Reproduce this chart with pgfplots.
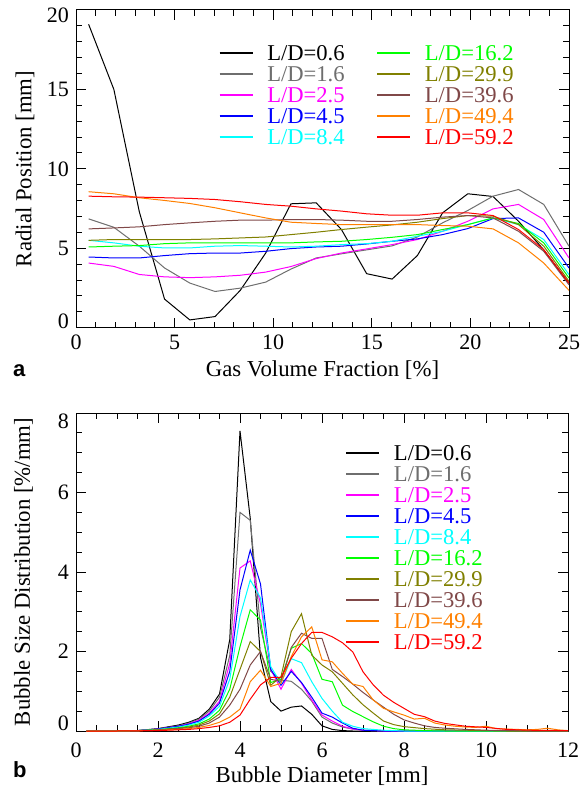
\documentclass[border=0pt]{standalone}
\usepackage{pgfplots}
\pgfplotsset{compat=1.18}
\usepackage{pgfplotstable}
\usepackage{fontspec}
\setmainfont{Liberation Serif}
\newfontfamily\panelfont{Liberation Sans}

\definecolor{cgray}{RGB}{110,110,110}
\definecolor{cmag}{RGB}{255,0,255}
\definecolor{cblue}{RGB}{0,0,255}
\definecolor{ccyan}{RGB}{0,255,255}
\definecolor{cgreen}{RGB}{0,255,0}
\definecolor{colive}{RGB}{128,128,0}
\definecolor{cbrown}{RGB}{128,72,72}
\definecolor{corange}{RGB}{255,128,0}
\definecolor{cred}{RGB}{255,0,0}

% radial position vs gas volume fraction, one column per L/D
\pgfplotstableread{
x     a     b     c     d     e     f     g     h     i     j
0.64  19.1  6.85  4.07  4.45  5.50  5.08  5.50  6.22  8.56  8.28
1.92  15.0  6.32  3.86  4.39  5.34  5.13  5.55  6.28  8.43  8.24
3.21  7.3   5.13  3.35  4.39  5.13  5.17  5.55  6.35  8.18  8.22
4.49  1.8   3.76  3.20  4.54  5.02  5.29  5.55  6.49  8.01  8.18
5.77  0.49  2.81  3.15  4.66  5.02  5.34  5.55  6.60  7.82  8.14
7.05  0.70  2.28  3.20  4.70  5.13  5.34  5.59  6.70  7.55  8.07
8.33  2.35  2.49  3.30  4.70  5.17  5.34  5.65  6.77  7.23  7.93
9.62  4.70  2.87  3.50  4.81  5.13  5.34  5.71  6.77  6.91  7.76
10.9  7.80  3.69  3.85  4.98  5.08  5.34  5.86  6.81  6.64  7.65
12.18 7.86  4.39  4.35  5.08  5.13  5.40  6.01  6.81  6.56  7.48
13.46 6.18  4.65  4.70  5.13  5.23  5.44  6.18  6.77  6.49  7.34
14.74 3.40  4.90  4.96  5.27  5.29  5.55  6.33  6.70  6.49  7.17
16.03 3.06  5.15  5.23  5.44  5.44  5.69  6.47  6.70  6.49  7.08
17.31 4.54  5.71  5.55  5.59  5.76  5.86  6.64  6.81  6.49  7.08
18.59 7.23  6.60  6.07  5.86  6.07  6.18  6.87  6.96  6.43  7.23
19.87 8.43  7.38  6.70  6.24  6.49  6.49  7.06  7.06  6.39  7.23
21.15 8.26  8.28  7.48  6.87  6.91  6.91  7.02  6.91  6.22  7.06
22.44 6.70  8.70  7.76  6.91  6.49  6.56  6.49  6.07  5.34  6.18
23.72 4.90  7.76  6.81  6.01  5.55  5.34  5.13  4.81  4.07  4.91
25.0  2.80  5.13  4.39  3.76  3.34  3.13  2.92  2.70  2.35  2.81
}\radialdata

\newcommand{\ld}[2]{\textcolor{#1}{L/D=#2}}
\newcommand{\leg}[2]{\addlegendimage{#1}\addlegendentry{\ld{#1}{#2}}}

\pgfplotsset{
  panel/.style={
    scale only axis,
    tick align=inside, tick pos=both,
    xticklabel pos=lower, yticklabel pos=left,
    major tick length=5pt, minor tick length=2.8pt,
    axis line style={line width=0.5pt},
    every tick/.style={black, line width=0.5pt},
    /pgf/number format/assume math mode=true,
    tick label style={font=\fontsize{11}{13}\selectfont},
    label style={font=\fontsize{11.4}{13}\selectfont},
    every axis plot/.append style={line width=0.5pt},
    legend cell align=left,
    legend style={draw=none, fill=none, inner sep=0pt, row sep=2.9pt,
      font=\fontsize{11.3}{13}\selectfont,
      nodes={inner sep=0pt, text height=7.6pt, text depth=0pt},
      /tikz/every odd column/.append style={column sep=6.8pt},
      /tikz/every even column/.append style={column sep=15.8pt}},
  },
}

\begin{document}
\begin{tikzpicture}
\useasboundingbox (0,0) rectangle (291pt,393.5pt);

\begin{axis}[panel,
  at={(38pt,229.65pt)}, anchor=south west,
  width=246.5pt, height=158.85pt,
  xmin=0, xmax=25, ymin=0, ymax=20,
  xtick={0,5,...,25}, ytick={0,5,...,20},
  minor x tick num=4, minor y tick num=4,
  yticklabel style={yshift={(\ticknum==0)*3pt-(\ticknum==4)*2.5pt}},
  xlabel={Gas Volume Fraction [\%]},
  ylabel={Radial Position [mm]},
  xlabel style={at={(axis description cs:0.5,-0.132)}, anchor=center},
  ylabel style={at={(axis description cs:-0.1034,0.5)}, anchor=center},
  legend image code/.code={\draw[#1,line width=1pt] (0pt,0pt) -- (16.5pt,0pt);},
  legend columns=2,
  legend style={at={(axis description cs:0.2886,0.891)}, anchor=north west},
]
\addplot[black, forget plot]   table[x=x,y=a] {\radialdata};
\addplot[cgray, forget plot]   table[x=x,y=b] {\radialdata};
\addplot[cmag, forget plot]    table[x=x,y=c] {\radialdata};
\addplot[cblue, forget plot]   table[x=x,y=d] {\radialdata};
\addplot[ccyan, forget plot]   table[x=x,y=e] {\radialdata};
\addplot[cgreen, forget plot]  table[x=x,y=f] {\radialdata};
\addplot[colive, forget plot]  table[x=x,y=g] {\radialdata};
\addplot[cbrown, forget plot]  table[x=x,y=h] {\radialdata};
\addplot[corange, forget plot] table[x=x,y=i] {\radialdata};
\addplot[cred, forget plot]    table[x=x,y=j] {\radialdata};
% legend in two columns, filled row by row
\leg{black}{0.6}  \leg{cgreen}{16.2}
\leg{cgray}{1.6}  \leg{colive}{29.9}
\leg{cmag}{2.5}   \leg{cbrown}{39.6}
\leg{cblue}{4.5}  \leg{corange}{49.4}
\leg{ccyan}{8.4}  \leg{cred}{59.2}
\end{axis}

\begin{axis}[panel,
  at={(38pt,28pt)}, anchor=south west,
  width=246pt, height=159pt,
  xmin=0, xmax=12, ymin=0, ymax=8,
  xtick={0,2,...,12}, ytick={0,2,...,8},
  minor x tick num=3, minor y tick num=3,
  xticklabel style={yshift=-2.5pt},
  yticklabel style={yshift={(\ticknum==0)*4pt-(\ticknum==4)*4pt}},
  xlabel={Bubble Diameter [mm]},
  ylabel={Bubble Size Distribution [\%/mm]},
  xlabel style={at={(axis description cs:0.5,-0.142)}, anchor=center},
  ylabel style={at={(axis description cs:-0.1067,0.5)}, anchor=center},
  legend image code/.code={\draw[#1,line width=1pt] (0pt,0pt) -- (16.5pt,0pt);},
  legend columns=1,
  legend style={at={(axis description cs:0.5467,0.9003)}, anchor=north west},
]
\addplot[black] coordinates {(0.25,0)(1,0)(1.5,0.01)(2,0.06)(2.5,0.15)(2.75,0.22)(3,0.32)(3.25,0.55)(3.5,0.93)(3.75,2.3)(4,7.55)(4.25,5.35)(4.5,1.85)(4.75,0.74)(5,0.5)(5.25,0.6)(5.5,0.63)(5.75,0.42)(6,0.13)(6.25,0.04)(6.5,0.01)(6.75,0)(12,0)};
\addlegendentry{\ld{black}{0.6}}
\addplot[cgray] coordinates {(0.25,0)(1,0)(1.5,0.01)(2,0.05)(2.5,0.13)(2.75,0.2)(3,0.3)(3.25,0.5)(3.5,0.85)(3.75,1.9)(4,5.5)(4.25,5.3)(4.5,2.6)(4.75,1.5)(5,1.28)(5.25,1.25)(5.5,1.05)(5.75,0.75)(6,0.35)(6.25,0.2)(6.5,0.1)(6.75,0.05)(7,0.02)(7.5,0)(12,0)};
\addlegendentry{\ld{cgray}{1.6}}
\addplot[cmag] coordinates {(0.25,0)(1,0)(1.5,0.01)(2,0.05)(2.5,0.12)(2.75,0.18)(3,0.27)(3.25,0.45)(3.5,0.75)(3.75,1.7)(4,4.1)(4.25,4.28)(4.5,3.2)(4.75,1.55)(5,1.05)(5.25,1.55)(5.5,1.2)(5.75,0.78)(6,0.4)(6.25,0.25)(6.5,0.12)(6.75,0.05)(7,0.02)(7.5,0)(12,0)};
\addlegendentry{\ld{cmag}{2.5}}
\addplot[cblue] coordinates {(0.25,0)(1,0)(1.5,0.01)(2,0.05)(2.5,0.12)(2.75,0.17)(3,0.25)(3.25,0.42)(3.5,0.7)(3.75,1.5)(4,3.55)(4.25,4.55)(4.5,3.7)(4.75,1.55)(5,1.15)(5.25,1.5)(5.5,1.22)(5.75,0.85)(6,0.45)(6.25,0.35)(6.5,0.2)(6.75,0.07)(7,0.02)(7.5,0)(12,0)};
\addlegendentry{\ld{cblue}{4.5}}
\addplot[ccyan] coordinates {(0.25,0)(1,0)(1.5,0.01)(2,0.04)(2.5,0.1)(2.75,0.15)(3,0.22)(3.25,0.38)(3.5,0.62)(3.75,1.3)(4,2.88)(4.25,3.8)(4.5,3.35)(4.75,1.62)(5,1.2)(5.25,1.82)(5.5,1.72)(5.75,1.24)(6,0.82)(6.25,0.5)(6.5,0.22)(6.75,0.12)(7,0.06)(7.5,0.02)(8,0)(12,0)};
\addlegendentry{\ld{ccyan}{8.4}}
\addplot[cgreen] coordinates {(0.25,0)(1,0)(1.5,0.01)(2,0.03)(2.5,0.08)(2.75,0.12)(3,0.18)(3.25,0.3)(3.5,0.52)(3.75,1.05)(4,2.12)(4.25,3.05)(4.5,2.79)(4.75,1.22)(5,1.3)(5.25,2.08)(5.5,2.2)(5.75,1.95)(6,1.3)(6.25,1.24)(6.5,0.65)(6.75,0.49)(7,0.36)(7.25,0.23)(7.5,0.12)(7.75,0.06)(8,0.03)(8.5,0.01)(9,0)(12,0)};
\addlegendentry{\ld{cgreen}{16.2}}
\addplot[colive] coordinates {(0.25,0)(1,0)(1.5,0.01)(2,0.03)(2.5,0.07)(2.75,0.1)(3,0.15)(3.25,0.25)(3.5,0.43)(3.75,0.85)(4,1.55)(4.25,2.25)(4.5,2.0)(4.75,1.15)(5,1.37)(5.25,2.5)(5.5,2.95)(5.75,1.91)(6,1.66)(6.25,1.49)(6.5,1.2)(6.75,0.91)(7,0.66)(7.25,0.45)(7.5,0.25)(7.75,0.16)(8,0.11)(8.5,0.06)(9,0.03)(10,0.01)(10.5,0)(12,0)};
\addlegendentry{\ld{colive}{29.9}}
\addplot[cbrown] coordinates {(0.25,0)(1,0)(1.5,0.01)(2,0.02)(2.5,0.06)(2.75,0.08)(3,0.12)(3.25,0.2)(3.5,0.35)(3.75,0.65)(4,1.05)(4.25,1.66)(4.5,2.0)(4.75,1.3)(5,1.25)(5.25,2.1)(5.5,2.46)(5.75,2.33)(6,2.33)(6.25,1.55)(6.5,1.37)(6.75,1.18)(7,0.97)(7.25,0.78)(7.5,0.6)(7.75,0.42)(8,0.28)(8.25,0.2)(8.5,0.13)(8.75,0.09)(9,0.07)(9.5,0.04)(10,0.02)(10.5,0.01)(11,0)(12,0)};
\addlegendentry{\ld{cbrown}{39.6}}
\addplot[corange] coordinates {(0.25,0)(1,0)(1.5,0.005)(2,0.015)(2.5,0.04)(2.75,0.06)(3,0.09)(3.25,0.14)(3.5,0.22)(3.75,0.35)(4,0.55)(4.25,1.24)(4.5,1.53)(4.75,1.12)(5,1.2)(5.25,1.87)(5.5,2.37)(5.75,2.62)(6,1.79)(6.25,1.74)(6.5,1.45)(6.75,1.18)(7,1.12)(7.25,0.78)(7.5,0.57)(7.75,0.48)(8,0.4)(8.25,0.3)(8.5,0.32)(8.75,0.2)(9,0.15)(9.25,0.12)(9.5,0.1)(9.75,0.09)(10,0.12)(10.25,0.06)(10.5,0.05)(11,0.03)(11.25,0.04)(11.5,0.07)(11.75,0.03)(12,0.01)};
\addlegendentry{\ld{corange}{49.4}}
\addplot[cred] coordinates {(0.25,0)(1,0)(1.5,0.005)(2,0.01)(2.5,0.03)(2.75,0.04)(3,0.06)(3.25,0.09)(3.5,0.13)(3.75,0.22)(4,0.4)(4.25,0.8)(4.5,1.16)(4.75,1.35)(5,1.35)(5.25,1.83)(5.5,2.2)(5.75,2.48)(6,2.48)(6.25,2.37)(6.5,2.22)(6.75,1.99)(7,1.49)(7.25,1.16)(7.5,0.9)(7.75,0.72)(8,0.57)(8.25,0.42)(8.5,0.36)(8.75,0.25)(9,0.19)(9.5,0.12)(10,0.09)(10.5,0.04)(11,0.02)(12,0.01)};
\addlegendentry{\ld{cred}{59.2}}
\end{axis}

\node[anchor=base west, inner sep=0pt, font=\panelfont\bfseries\fontsize{11}{13}\selectfont] at (6.4pt,205pt) {a};
\node[anchor=base west, inner sep=0pt, font=\panelfont\bfseries\fontsize{11}{13}\selectfont] at (6.4pt,5pt) {b};
\end{tikzpicture}
\end{document}
